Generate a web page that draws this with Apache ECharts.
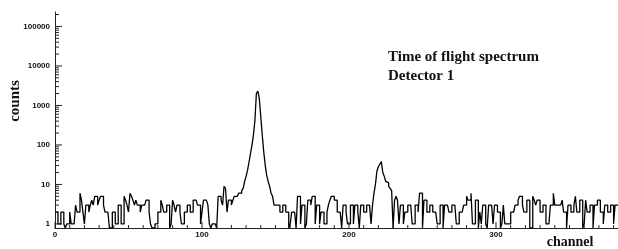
<!DOCTYPE html>
<html><head><meta charset="utf-8">
<script src="https://cdn.jsdelivr.net/npm/echarts@6/dist/echarts.min.js"></script>
<style>html,body{margin:0;padding:0;background:#fff}#c{width:618px;height:249px}</style>
</head><body><div id="c"></div>
<script>
// counts per channel
const counts0to99 = [
  2,2,1,1,2,2,1,0,1,1, 2,1,1,1,3,2,2,6,4,2, 1,3,3,2,3,4,3,5,5,3, 4,5,5,3,2,2,2,0,0,2,
  2,1,1,3,3,1,1,5,4,3, 2,6,5,4,3,4,3,3,2,3, 3,3,4,4,2,1,0,0,1,1, 2,2,4,3,2,2,3,3,0,1,
  4,3,2,3,3,2,1,1,2,2, 3,3,2,2,4,4,4,3,3,1
];
const counts100to199 = [
  2,4,4,4,3,1,0,1,1,1, 0,5,5,4,3,9,8,2,4,4, 3,4,5,5,5,6,6,7,8,12,
  16,23,37,61,99,177,420,2000,2300,1490, 510,177,67,31,17,12,9,6,5,3,
  3,3,3,2,2,3,3,2,2,0, 1,2,2,2,0,5,5,1,3,3, 0,1,4,4,3,5,5,1,3,3, 1,2,2,1,1,2,3,4,5,5,
  4,4,2,2,2,0,3,3,2,1
];
const counts200to299 = [
  1,3,3,1,3,3,2,0,3,3, 2,2,3,3,3,1,3,6,10,22, 28,33,38,20,16,12,11,9,8,7,
  0,4,5,4,1,3,3,1,2,2, 3,3,3,1,1,3,3,2,6,6, 0,4,4,2,2,3,3,2,2,2, 1,1,3,3,0,3,3,3,2,2,
  3,3,3,1,1,2,2,2,3,3, 5,4,4,6,1,1,4,4,0,2, 1,3,3,1,0,3,3,3,1,3
];
const counts300to382 = [
  3,2,2,0,1,3,1,1,1,1, 2,2,2,3,3,4,5,5,3,2, 2,4,4,0,0,5,4,3,4,4, 2,2,3,3,1,1,1,3,3,6,
  3,3,3,3,3,4,2,2,0,3, 3,2,2,3,5,2,2,4,4,0, 1,4,2,2,3,3,0,3,3,4, 4,2,2,1,3,3,2,2,3,3,
  1,3,3
];
const xTickLabels = ['0', '100', '200', '300'];
const yTickLabels = ['1', '10', '100', '1000', '10000', '100000'];

const Y_MIN = 0.79, Y_MAX = 232000, X_MAX = 383;

const counts = counts0to99.concat(counts100to199, counts200to299, counts300to382);
const lineData = counts.map((v, i) => [i, Math.max(v, Y_MIN)]);
lineData.push([counts.length, Math.max(counts[counts.length - 1], Y_MIN)]);

const yTickVals = [];
for (let k = 0; k <= 5; k++) for (let m = 1; m <= 9; m++) {
  const v = m * Math.pow(10, k);
  if (v <= Y_MAX) yTickVals.push([0, v, m === 1 ? 1 : 0]);
}
const xTickVals = [];
for (let t = 0; t <= 380; t += 10) xTickVals.push([t, Y_MIN, t % 100 === 0 ? 1 : 0]);

const chart = echarts.init(document.getElementById('c'), null, { renderer: 'canvas' });
const lblFont = { fontFamily: 'Liberation Sans', fontSize: 8, fontWeight: 'bold', color: '#111' };
chart.setOption({
  animation: false,
  backgroundColor: '#fff',
  grid: { left: 55, right: 0, top: 12, bottom: 21, containLabel: false },
  xAxis: {
    type: 'value', min: 0, max: X_MAX, interval: 100,
    axisLine: { show: true, lineStyle: { color: '#222', width: 1 } },
    axisTick: { show: false }, splitLine: { show: false },
    axisLabel: Object.assign({}, lblFont, {
      margin: 3, showMaxLabel: false,
      formatter: v => (v % 100 === 0 && v / 100 < xTickLabels.length) ? xTickLabels[v / 100] : ''
    })
  },
  yAxis: {
    type: 'log', logBase: 10, min: Y_MIN, max: Y_MAX,
    axisLine: { show: true, lineStyle: { color: '#222', width: 1 } },
    axisTick: { show: false }, splitLine: { show: false }, minorTick: { show: false },
    axisLabel: Object.assign({}, lblFont, {
      margin: 5, showMinLabel: false, showMaxLabel: false,
      formatter: v => {
        const l = Math.log10(v), r = Math.round(l);
        return (Math.abs(l - r) < 1e-6 && r >= 0 && r < yTickLabels.length) ? yTickLabels[r] : '';
      }
    })
  },
  series: [
    {
      type: 'line', data: lineData, step: 'end', showSymbol: false, symbol: 'none',
      lineStyle: { color: '#000', width: 1.3 }, clip: true, z: 3
    },
    {
      type: 'custom', data: yTickVals, z: 4, silent: true,
      renderItem: (params, api) => {
        const p = api.coord([0, api.value(1)]);
        const len = api.value(2) ? 7 : 4;
        return { type: 'line', shape: { x1: p[0], y1: p[1], x2: p[0] + len, y2: p[1] },
                 style: { stroke: '#222', lineWidth: 1 } };
      }
    },
    {
      type: 'custom', data: xTickVals, z: 4, silent: true,
      renderItem: (params, api) => {
        const p = api.coord([api.value(0), api.value(1)]);
        const len = api.value(2) ? 6 : 3;
        return { type: 'line', shape: { x1: p[0], y1: p[1], x2: p[0], y2: p[1] - len },
                 style: { stroke: '#222', lineWidth: 1 } };
      }
    }
  ],
  graphic: [
    { type: 'text', x: 15, y: 101, rotation: Math.PI / 2,
      style: { text: 'counts', font: 'bold 15px "Liberation Serif"', fill: '#111', align: 'center', verticalAlign: 'middle' } },
    { type: 'text', x: 570, y: 242,
      style: { text: 'channel', font: 'bold 14px "Liberation Serif"', fill: '#111', align: 'center', verticalAlign: 'middle' } },
    { type: 'text', x: 388, y: 57,
      style: { text: 'Time of flight spectrum', font: 'bold 15px "Liberation Serif"', fill: '#111', align: 'left', verticalAlign: 'middle' } },
    { type: 'text', x: 388, y: 76,
      style: { text: 'Detector 1', font: 'bold 15px "Liberation Serif"', fill: '#111', align: 'left', verticalAlign: 'middle' } }
  ]
});
</script>
</body></html>
